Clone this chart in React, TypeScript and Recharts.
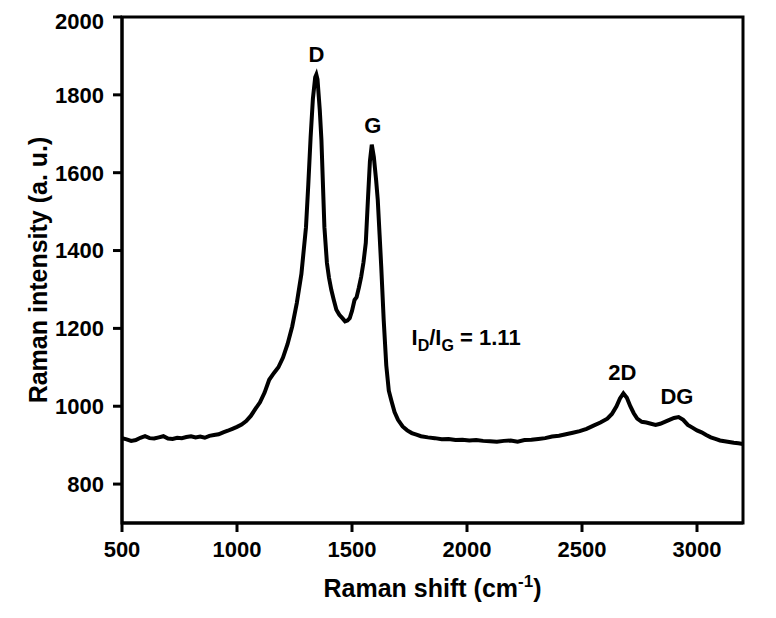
import {
  LineChart,
  Line,
  XAxis,
  YAxis,
  ReferenceArea,
  ReferenceDot,
} from "recharts";

const shifts = [
  500, 520, 540, 560, 580, 600, 620, 640, 660, 680, 700, 720, 740, 760, 780, 800, 820, 840, 860, 880,
  900, 920, 940, 960, 980, 1000, 1020, 1040, 1060, 1080, 1100, 1120, 1140, 1160, 1180, 1200, 1220, 1240,
  1260, 1280, 1300, 1310, 1320, 1330, 1340, 1345, 1350, 1360, 1367, 1380, 1391, 1400, 1410, 1420, 1432,
  1445, 1460, 1470, 1480, 1490, 1500, 1511, 1520, 1530, 1540, 1550, 1560, 1570, 1578, 1586, 1595, 1605,
  1612, 1620, 1627, 1638, 1649, 1660, 1671, 1685, 1700, 1720, 1740, 1760, 1780, 1800, 1830, 1860, 1890,
  1920, 1950, 1980, 2010, 2040, 2070, 2100, 2130, 2160, 2190, 2220, 2250, 2280, 2310, 2340, 2370, 2400,
  2430, 2460, 2490, 2520, 2550, 2580, 2610, 2630, 2650, 2665, 2680, 2695, 2710, 2725, 2740, 2760, 2780,
  2800, 2820, 2840, 2860, 2880, 2900, 2920, 2940, 2960, 2980, 3000, 3020, 3040, 3060, 3080, 3100, 3120,
  3140, 3160, 3180, 3200,
];

const intensities = [
  918, 915, 911, 913, 919, 923, 918, 917, 920, 923, 917, 916, 919, 918, 921, 923, 920, 922, 919, 924,
  926, 928, 933, 937, 942, 947, 953, 962, 975, 993, 1010, 1035, 1068, 1085, 1100, 1125, 1160, 1205,
  1265, 1340, 1460, 1570, 1690, 1790, 1845, 1852, 1840, 1760, 1685, 1460, 1368, 1330,
  1299, 1275, 1248, 1235, 1225, 1218, 1220, 1226, 1245, 1273, 1280, 1305, 1333, 1370, 1420, 1540,
  1630, 1672, 1640, 1580, 1530, 1440, 1360, 1220, 1105, 1040, 1015, 985, 965, 948, 938, 931, 927,
  923, 920, 918, 915, 916, 913, 914, 912, 913, 911, 910, 909, 911, 912, 909, 913, 914, 916, 918, 922,
  924, 928, 932, 936, 942, 950, 958, 968, 980, 1000, 1020, 1033, 1022, 1000, 982, 968, 960, 958, 955,
  952, 955, 960, 965, 970, 972, 965, 952, 945, 938, 933, 926, 920, 916, 912, 910, 908, 906, 905, 903,
];

const xTicks = [500, 1000, 1500, 2000, 2500, 3000];
const yTicks = [800, 1000, 1200, 1400, 1600, 1800, 2000];

const peakLabels = [
  { name: "D", x: 1345, y: 1885 },
  { name: "G", x: 1590, y: 1703 },
  { name: "2D", x: 2675, y: 1068 },
  { name: "DG", x: 2913, y: 1006 },
];

const data = shifts.map((s, i) => ({ shift: s, intensity: intensities[i] }));

const FONT = "'Liberation Sans', Arial, sans-serif";

const XTitle = (props: any) => {
  const vb = props.viewBox;
  return (
    <text
      x={vb.x + vb.width / 2}
      y={vb.y + 74}
      textAnchor="middle"
      fontFamily={FONT}
      fontWeight="bold"
      fontSize={25}
      fill="#000"
    >
      Raman shift (cm
      <tspan fontSize={17} dy={-10}>-1</tspan>
      <tspan dy={10}>)</tspan>
    </text>
  );
};

export default function App() {
  return (
    <LineChart
      width={760}
      height={600}
      data={data}
      margin={{ top: 9, right: 25, left: 0, bottom: 25 }}
    >
      <XAxis
        dataKey="shift"
        type="number"
        domain={[500, 3200]}
        ticks={xTicks}
        allowDataOverflow
        stroke="#000"
        strokeWidth={3}
        tickSize={9}
        tickMargin={9}
        tick={{ fill: "#000", fontSize: 22, fontWeight: "bold", fontFamily: FONT }}
        height={60}
        label={<XTitle />}
      />
      <YAxis
        type="number"
        domain={[700, 2000]}
        ticks={yTicks}
        allowDataOverflow
        width={114}
        stroke="#000"
        strokeWidth={3}
        tickSize={9}
        tickMargin={9}
        tick={{ fill: "#000", fontSize: 22, fontWeight: "bold", fontFamily: FONT }}
        label={{
          value: "Raman intensity (a. u.)",
          angle: -90,
          position: "insideLeft",
          offset: 30,
          style: {
            textAnchor: "middle",
            fill: "#000",
            fontSize: 25,
            fontWeight: "bold",
            fontFamily: FONT,
          },
        }}
      />
      <ReferenceArea
        x1={500}
        x2={3200}
        y1={700}
        y2={2000}
        fill="none"
        stroke="#000"
        strokeWidth={3}
      />
      <Line
        type="linear"
        dataKey="intensity"
        stroke="#000"
        strokeWidth={4}
        dot={false}
        isAnimationActive={false}
      />
      {peakLabels.map((p) => (
        <ReferenceDot
          key={p.name}
          x={p.x}
          y={p.y}
          r={0}
          shape={(s: any) => (
            <text
              x={s.cx}
              y={s.cy}
              textAnchor="middle"
              fontFamily={FONT}
              fontWeight="bold"
              fontSize={22}
              fill="#000"
            >
              {p.name}
            </text>
          )}
        />
      ))}
      <ReferenceDot
        x={1759}
        y={1158}
        r={0}
        shape={(s: any) => (
          <text x={s.cx} y={s.cy} fontFamily={FONT} fontWeight="bold" fontSize={22} fill="#000">
            I<tspan fontSize={16} dy={6}>D</tspan>
            <tspan dy={-6}>/I</tspan>
            <tspan fontSize={16} dy={6}>G</tspan>
            <tspan dy={-6}> = 1.11</tspan>
          </text>
        )}
      />
    </LineChart>
  );
}
